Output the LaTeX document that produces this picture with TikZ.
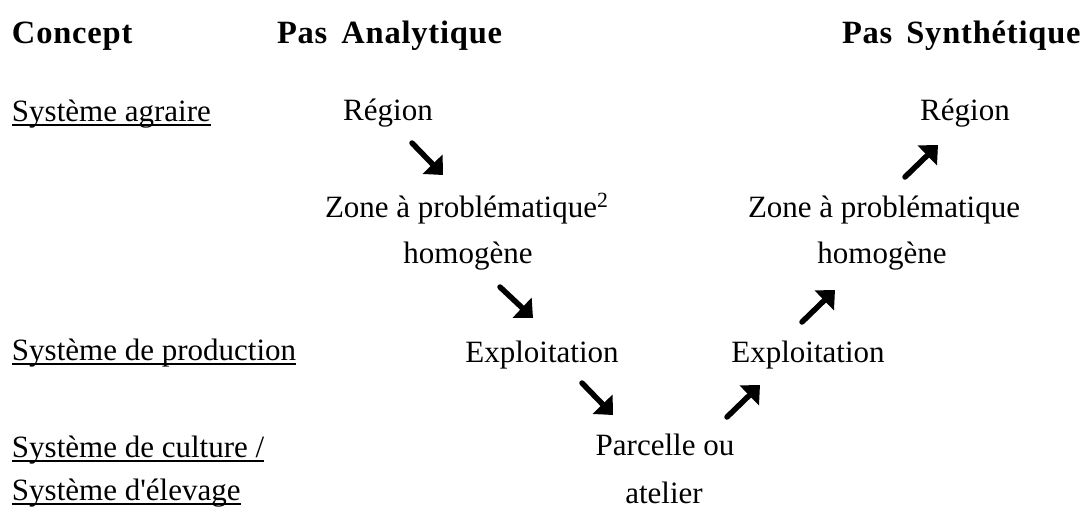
\documentclass[tikz,border=0pt]{standalone}
\usepackage{fontspec}
\setmainfont{Liberation Serif}
\newfontfamily\hdrfont[LetterSpace=2.5]{Liberation Serif}
\usetikzlibrary{arrows.meta}
\tikzset{
  txt/.style={inner sep=0pt, outer sep=0pt, font=\fontsize{31}{36}\selectfont},
  hdr/.style={inner sep=0pt, outer sep=0pt, font=\hdrfont\fontsize{32.5}{38}\selectfont\bfseries},
  uline/.style={line width=1.8pt},
  bigarrow/.style={line width=5.5pt, line cap=round, -{Triangle[length=15pt,width=27pt]}}
}
\begin{document}
\begin{tikzpicture}[x=1pt,y=-1pt]
\useasboundingbox (0,0) rectangle (1088,509);
% headers
\node[hdr, anchor=base west] (concept) at (12,43) {Concept};
\node[hdr, anchor=base west] (pasA) at (277,43) {Pas\hspace{14pt}Analytique};
\node[hdr, anchor=base west] (pasS) at (842,43) {Pas\hspace{14pt}Synthétique};
% concept column
\node[txt, anchor=base west] (sa) at (12,121) {Système agraire};
\node[txt, anchor=base west] (sp) at (12,360) {Système de production};
\node[txt, anchor=base west] (sc) at (12,457) {Système de culture /};
\node[txt, anchor=base west] (se) at (12,500) {Système d\textquotesingle élevage};
\foreach \n in {sa,sp,sc,se}
  \draw[uline] ([yshift=-4pt]\n.base west) -- ([yshift=-4pt]\n.base east);
% analytic path
\node[txt, anchor=base] (r1) at (388,120) {Région};
\node[txt, anchor=base west] (z1) at (325,217) {Zone à problématique\textsuperscript{2}};
\node[txt, anchor=base] (h1) at (468,263) {homogène};
\node[txt, anchor=base] (e1) at (542,362) {Exploitation};
\node[txt, anchor=base] (p) at (665,455) {Parcelle ou};
\node[txt, anchor=base] (at) at (664,503) {atelier};
% synthetic path
\node[txt, anchor=base] (e2) at (808,362) {Exploitation};
\node[txt, anchor=base] (z2) at (884,217) {Zone à problématique};
\node[txt, anchor=base] (h2) at (882,263) {homogène};
\node[txt, anchor=base] (r2) at (965,120) {Région};
% arrow end points
\coordinate (a1s) at (412,143); \coordinate (a1e) at (443,175);
\coordinate (a2s) at (500,287); \coordinate (a2e) at (533,318);
\coordinate (a3s) at (582,383); \coordinate (a3e) at (613,415);
\coordinate (a4s) at (727,417); \coordinate (a4e) at (760,385);
\coordinate (a5s) at (802,322); \coordinate (a5e) at (835,290);
\coordinate (a6s) at (905,177); \coordinate (a6e) at (938,145);
\foreach \i in {1,...,6}
  \draw[bigarrow] (a\i s) -- (a\i e);
\end{tikzpicture}
\end{document}
